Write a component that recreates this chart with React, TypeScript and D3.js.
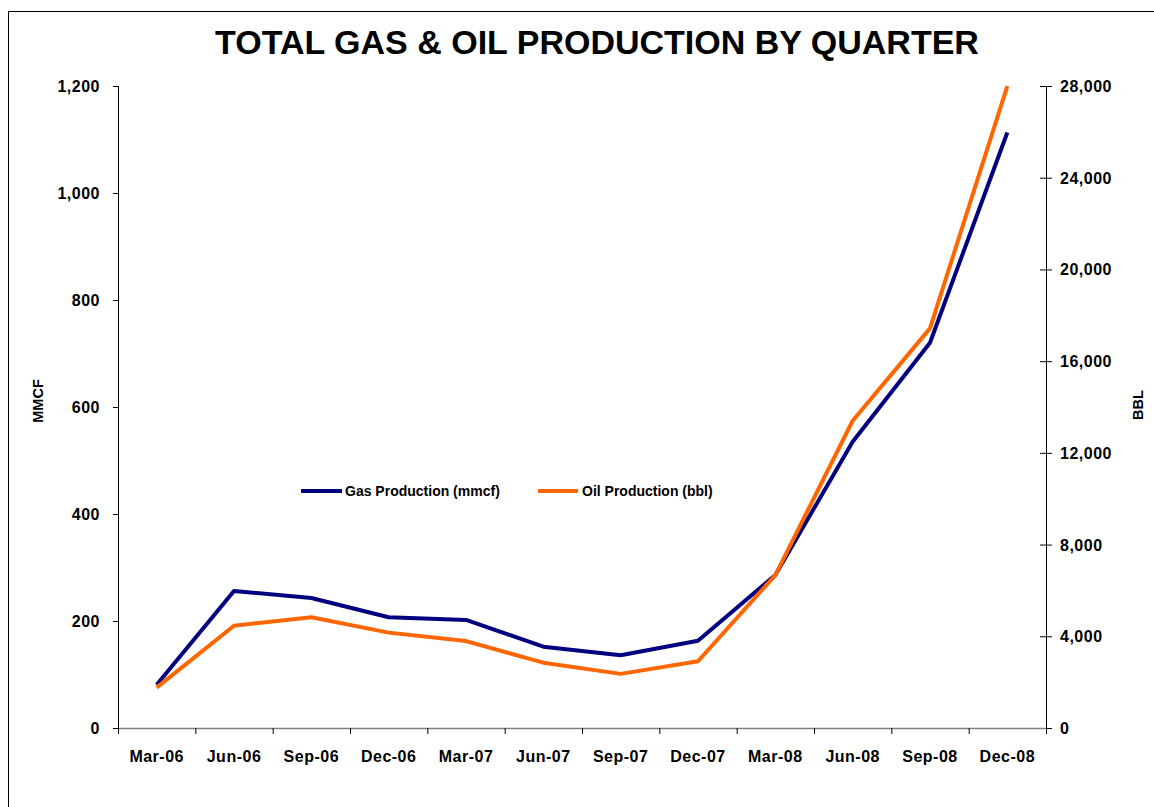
import React from "react";
import * as d3 from "d3";

const quarters = ["Mar-06","Jun-06","Sep-06","Dec-06","Mar-07","Jun-07","Sep-07","Dec-07","Mar-08","Jun-08","Sep-08","Dec-08"];
const gasMmcf = [81, 256, 243, 207, 202, 152, 136, 163, 286, 535, 720, 1113];
const oilBbl = [1760, 4460, 4830, 4160, 3790, 2850, 2360, 2910, 6670, 13400, 17430, 27990];
const leftTicks = [0, 200, 400, 600, 800, 1000, 1200];
const rightTicks = [0, 4000, 8000, 12000, 16000, 20000, 24000, 28000];

const W = 1154, H = 807;
const M = { left: 118, right: 1046, top: 86, bottom: 728 };
const FONT = "'Liberation Sans', Arial, sans-serif";
const TICK_FS = 16;
const TICK_LS = 0.5;

export default function App() {
  const x = d3.scaleBand<string>().domain(quarters).range([M.left, M.right]);
  const yL = d3.scaleLinear().domain([0, 1200]).range([M.bottom, M.top]);
  const yR = d3.scaleLinear().domain([0, 28000]).range([M.bottom, M.top]);
  const cx = (q: string) => (x(q) as number) + x.bandwidth() / 2;
  const gasLine = d3.line<number>().x((_, i) => cx(quarters[i])).y(d => yL(d));
  const oilLine = d3.line<number>().x((_, i) => cx(quarters[i])).y(d => yR(d));
  const fmt = d3.format(",");
  const bounds = quarters.map(q => x(q) as number).concat([M.right]);

  return (
    <svg width={W} height={H} style={{ position: "absolute", left: 0, top: 0 }} fontFamily={FONT}>
      <rect x={0} y={0} width={W} height={H} fill="#fff" />
      <rect x={8.5} y={11.5} width={W + 20} height={H + 20} fill="none" stroke="#000" strokeWidth={1} />
      <text x={597} y={54} textAnchor="middle" fontSize={34} fontWeight="bold" fill="#000">TOTAL GAS &amp; OIL PRODUCTION BY QUARTER</text>

      {/* left axis */}
      <line x1={M.left + 0.5} x2={M.left + 0.5} y1={M.top} y2={M.bottom} stroke="#000" strokeWidth={1} />
      {leftTicks.map(t => (
        <g key={"l" + t}>
          <line x1={M.left - 5} x2={M.left} y1={yL(t) + 0.5} y2={yL(t) + 0.5} stroke="#000" />
          <text x={100} y={yL(t) + 6} textAnchor="end" fontSize={TICK_FS} letterSpacing={TICK_LS} fontWeight="bold">{fmt(t)}</text>
        </g>
      ))}
      <text transform={`translate(42.5,${401}) rotate(-90)`} textAnchor="middle" fontSize={14.5} fontWeight="bold">MMCF</text>

      {/* right axis */}
      <line x1={M.right + 0.5} x2={M.right + 0.5} y1={M.top} y2={M.bottom + 5} stroke="#000" strokeWidth={1} />
      {rightTicks.map(t => (
        <g key={"r" + t}>
          <line x1={M.right - 6} x2={M.right + 6} y1={yR(t) + 0.5} y2={yR(t) + 0.5} stroke="#000" />
          <text x={1060} y={yR(t) + 6} textAnchor="start" fontSize={TICK_FS} letterSpacing={TICK_LS} fontWeight="bold">{fmt(t)}</text>
        </g>
      ))}
      <text transform={`translate(1142.5,${405}) rotate(-90)`} textAnchor="middle" fontSize={14.5} fontWeight="bold">BBL</text>

      {/* x axis */}
      <line x1={M.left} x2={M.right} y1={M.bottom + 0.5} y2={M.bottom + 0.5} stroke="#808080" strokeWidth={1.5} />
      {bounds.map((b, i) => (
        <line key={"xt" + i} x1={b + 0.5} x2={b + 0.5} y1={M.bottom} y2={M.bottom + 6} stroke="#000" />
      ))}
      {quarters.map(q => (
        <text key={q} x={cx(q)} y={762} textAnchor="middle" fontSize={TICK_FS} letterSpacing={TICK_LS} fontWeight="bold">{q}</text>
      ))}

      {/* lines */}
      <path d={gasLine(gasMmcf) as string} fill="none" stroke="#000080" strokeWidth={4} strokeLinejoin="round" />
      <path d={oilLine(oilBbl) as string} fill="none" stroke="#FF6600" strokeWidth={4} strokeLinejoin="round" />

      {/* legend */}
      <line x1={301} x2={342} y1={491} y2={491} stroke="#000080" strokeWidth={4} />
      <text x={345} y={496} fontSize={14} fontWeight="bold">Gas Production (mmcf)</text>
      <line x1={538} x2={578} y1={491} y2={491} stroke="#FF6600" strokeWidth={4} />
      <text x={582} y={496} fontSize={14} fontWeight="bold">Oil Production (bbl)</text>
    </svg>
  );
}
